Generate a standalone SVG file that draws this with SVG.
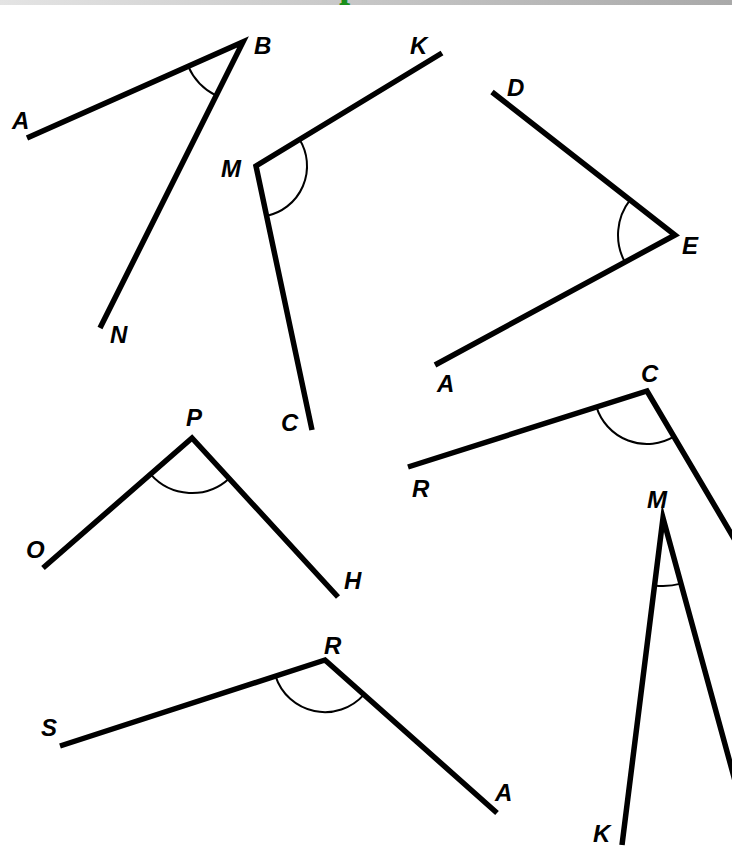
<svg xmlns="http://www.w3.org/2000/svg" width="732" height="856" viewBox="0 0 732 856">
<defs>
<linearGradient id="band" x1="0" y1="0" x2="1" y2="0">
<stop offset="0" stop-color="#e4e4e4"/>
<stop offset="1" stop-color="#a9a9a9"/>
</linearGradient>
<style>
.ray{fill:none;stroke:#000;stroke-width:5.5;stroke-linejoin:miter;stroke-miterlimit:20;stroke-linecap:butt}
.arc{fill:none;stroke:#000;stroke-width:2}
.lbl{font-family:"Liberation Sans",Arial,sans-serif;font-style:italic;font-weight:bold;font-size:24px;fill:#000}
</style>
</defs>
<rect x="0" y="0" width="732" height="856" fill="#fff"/>
<rect x="0" y="0" width="732" height="5" fill="url(#band)"/>
<text x="339" y="-3.7" font-family="'Liberation Serif',serif" font-weight="bold" font-size="40" fill="#1a8f1a">p</text>

<g id="connectors">
</g>

<g id="angle-ABN">
<polyline class="ray" points="27,138 243,42 100,328"/>
<path class="arc" d="M188.2,66.4 A60,60 0 0 0 216.2,95.7"/>
<text class="lbl" x="12" y="129">A</text>
<text class="lbl" x="254" y="54">B</text>
<text class="lbl" x="110" y="343">N</text>
</g>

<g id="angle-KMC">
<polyline class="ray" points="442,53 256,166 312,430"/>
<path class="arc" d="M299.6,139.5 A51,51 0 0 1 266.6,215.9"/>
<text class="lbl" x="410" y="54">K</text>
<text class="lbl" x="221" y="177">M</text>
<text class="lbl" x="281" y="431">C</text>
</g>

<g id="angle-DEA">
<polyline class="ray" points="492,92 675,235 435,365"/>
<path class="arc" d="M630.1,199.9 A57,57 0 0 0 624.9,262.1"/>
<text class="lbl" x="507" y="96">D</text>
<text class="lbl" x="682" y="254">E</text>
<text class="lbl" x="437" y="392">A</text>
</g>

<g id="angle-RC">
<polyline class="ray" points="408,467 647,391 740,548.6"/>
<path class="arc" d="M596.5,407.1 A53,53 0 0 0 673.9,436.6"/>
<text class="lbl" x="641" y="382">C</text>
<text class="lbl" x="412" y="497">R</text>
</g>

<g id="angle-OPH">
<polyline class="ray" points="43,568 192,438 338,597"/>
<path class="arc" d="M150.5,474.2 A55,55 0 0 0 229.2,478.5"/>
<text class="lbl" x="186" y="426">P</text>
<text class="lbl" x="26" y="558">O</text>
<text class="lbl" x="344" y="589">H</text>
</g>

<g id="angle-SRA">
<polyline class="ray" points="60,746 325,660 497,813"/>
<path class="arc" d="M275.5,676.1 A52,52 0 0 0 363.9,694.6"/>
<text class="lbl" x="324" y="654">R</text>
<text class="lbl" x="41" y="736">S</text>
<text class="lbl" x="495" y="801">A</text>
</g>

<g id="angle-KM">
<polyline class="ray" points="622,845 663,518 740,799"/>
<path class="arc" d="M654.5,585.5 A68,68 0 0 0 681,583.6"/>
<text class="lbl" x="647" y="508">M</text>
<text class="lbl" x="593" y="842">K</text>
</g>
</svg>
